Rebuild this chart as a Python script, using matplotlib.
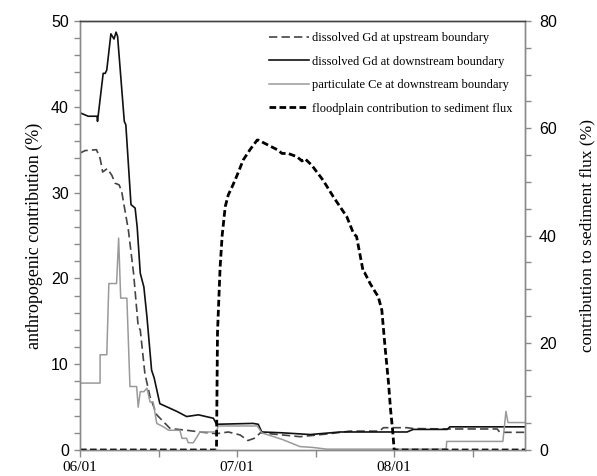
import matplotlib
matplotlib.use("Agg")
import matplotlib.pyplot as plt
from matplotlib.ticker import MultipleLocator, FixedLocator

# ---- data (x in days since 06/01) ----
gd_down_x = [0, 1.6, 3.3, 3.4, 4.5, 4.9, 5.2, 6.0, 6.6, 7.0, 7.3, 8.6, 8.9, 9.9, 10.7, 11.1,
             11.7, 12.4, 13.0, 13.9, 14.4, 15.5, 18.8, 20.7, 23.0, 25.9, 26.5, 33.6, 34.6,
             35.3, 39.4, 44.7, 50.5, 63.5, 64.7, 71.3, 71.8, 86.4]
gd_down_y = [39.3, 38.9, 38.9, 38.3, 43.9, 43.9, 44.3, 48.5, 47.9, 48.7, 48.2, 38.3, 37.9, 28.6,
             28.2, 26.0, 20.6, 19.0, 15.5, 9.3, 8.4, 5.4, 4.5, 3.9, 4.1, 3.7, 3.0, 3.1, 3.0,
             2.1, 2.0, 1.8, 2.1, 2.1, 2.4, 2.4, 2.7, 2.7]

gd_up_x = [0, 1.0, 3.2, 3.9, 4.4, 5.3, 6.2, 6.8, 7.6, 8.1, 9.4, 10.4, 11.3, 11.7, 12.6, 13.6,
           14.9, 16.2, 17.5, 20.7, 23.3, 26.5, 28.8, 31.1, 32.6, 34.0, 35.0, 39.4, 42.7,
           48.5, 52.4, 58.2, 58.9, 63.5, 64.7, 71.8, 81.0, 81.5, 86.4]
gd_up_y = [34.6, 34.9, 35.0, 34.0, 32.4, 32.8, 32.0, 31.1, 30.9, 30.1, 25.6, 20.6, 14.4, 14.0,
           8.9, 6.2, 4.1, 3.3, 2.5, 2.3, 2.1, 1.9, 2.1, 1.75, 1.1, 1.4, 2.0, 1.75, 1.55,
           1.9, 2.2, 2.2, 2.6, 2.6, 2.5, 2.45, 2.45, 2.06, 2.06]

ce_x = [0, 3.9, 3.9, 5.2, 5.6, 7.1, 7.5, 7.9, 9.1, 9.7, 11.0, 11.3, 11.7, 12.4, 13.0, 13.6,
        14.2, 14.9, 16.2, 17.2, 19.4, 19.8, 20.7, 21.0, 22.0, 23.3, 26.5, 26.8, 34.4, 35.3,
        39.4, 42.7, 45.2, 47.9, 71.1, 71.2, 82.1, 82.7, 83.1, 86.4]
ce_y = [7.8, 7.8, 11.1, 11.1, 19.4, 19.4, 24.7, 17.7, 17.7, 7.4, 7.4, 5.0, 6.8, 6.8, 7.2, 5.6,
        5.6, 3.1, 2.7, 2.3, 2.3, 1.36, 1.36, 0.85, 0.85, 2.1, 2.1, 2.8, 2.8, 2.0,
        1.2, 0.4, 0.3, 0.1, 0.1, 1.0, 1.0, 4.5, 3.2, 3.2]

flood_x = [0, 26.5, 26.7, 27.2, 27.6, 28.2, 28.8, 29.5, 30.4, 31.7, 33.0, 34.4, 34.6, 38.5,
           39.2, 40.4, 42.1, 43.1, 43.7, 45.0, 47.2, 49.2, 51.8, 53.1, 53.7, 55.0, 55.3,
           56.3, 57.3, 57.9, 58.6, 59.2, 59.9, 60.3, 60.7, 61.0, 86.4]
flood_y = [0, 0, 22, 34, 40, 45.4, 47.6, 49, 51, 54.1, 56, 57.8, 57.8, 55.9,
           55.3, 55.3, 54.7, 53.9, 54.3, 53.1, 50.3, 47.2, 43.5, 40.4, 39.8, 33.2, 33,
           31.1, 29.5, 28.6, 26.1, 19.5, 12.5, 7.5, 3.7, 0, 0]

x_major = [0, 30.5, 61]
x_labels = ["06/01", "07/01", "08/01"]
x_minor = [15.25, 45.75, 76.25]

labels = ["dissolved Gd at upstream boundary",
          "dissolved Gd at downstream boundary",
          "particulate Ce at downstream boundary",
          "floodplain contribution to sediment flux"]

fig = plt.figure(figsize=(5.97, 4.76), dpi=100)
ax = fig.add_axes([80/597, 1-450/476, 445/597, 429/476])
ax2 = ax.twinx()

l1, = ax.plot(gd_up_x, gd_up_y, color="#444444", lw=1.2, ls=(0, (5, 2.5)))
l2, = ax.plot(gd_down_x, gd_down_y, color="#111111", lw=1.2)
l3, = ax.plot(ce_x, ce_y, color="#9a9a9a", lw=1.1)
l4, = ax2.plot(flood_x, flood_y, color="black", lw=2.0, ls=(0, (2.4, 1.2)))

ax.set_xlim(0, 86.4)
ax.set_ylim(0, 50)
ax2.set_ylim(0, 80)

ax.xaxis.set_major_locator(FixedLocator(x_major))
ax.xaxis.set_minor_locator(FixedLocator(x_minor))
ax.set_xticklabels(x_labels, family="Liberation Serif", fontsize=11)
ax.yaxis.set_major_locator(MultipleLocator(10))
ax.yaxis.set_minor_locator(MultipleLocator(2))
ax2.yaxis.set_major_locator(MultipleLocator(20))
ax2.yaxis.set_minor_locator(MultipleLocator(5))

for a in (ax, ax2):
    for s in a.spines.values():
        s.set_color("#8a8a8a")
        s.set_linewidth(1.0)
    a.spines["top"].set_color("#444444")
    a.tick_params(which="both", direction="out", color="#8a8a8a", width=1.0)
    a.tick_params(which="major", length=4)
    a.tick_params(which="minor", length=4)

ax.tick_params(axis="x", which="both", length=5, pad=3)
for t in ax.get_yticklabels() + ax2.get_yticklabels():
    t.set_family("Liberation Sans")
    t.set_fontsize(11.5)
ax.tick_params(axis="y", pad=4)
ax2.tick_params(axis="y", pad=6)

ax.set_ylabel("anthropogenic contribution (%)", family="Liberation Serif", fontsize=13, labelpad=6)
ax2.set_ylabel("contribution to sediment flux (%)", family="Liberation Serif", fontsize=12.5,
               rotation=90, labelpad=16)

leg = ax.legend([l1, l2, l3, l4], labels, loc="upper left", bbox_to_anchor=(0.425, 0.974),
                frameon=False, prop={"family": "Liberation Serif", "size": 9},
                handlelength=3.2, handletextpad=0.2, labelspacing=0.92, borderpad=0,
                borderaxespad=0)

fig.savefig("out.png", dpi=100)
